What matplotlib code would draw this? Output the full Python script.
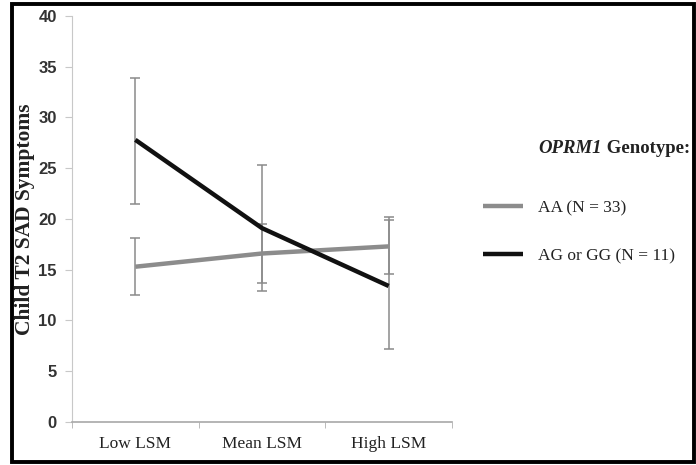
import numpy as np
import matplotlib
matplotlib.use("Agg")
import matplotlib.pyplot as plt
from matplotlib.patches import Rectangle

categories = ["Low LSM", "Mean LSM", "High LSM"]
aa_mean = [15.3, 16.6, 17.3]
aa_low = [12.5, 13.7, 14.6]
aa_high = [18.1, 19.5, 19.9]
ag_mean = [27.8, 19.1, 13.4]
ag_low = [21.5, 12.9, 7.2]
ag_high = [33.9, 25.3, 20.2]
labels = ["AA (N = 33)", "AG or GG (N = 11)"]
y_ticks = [0, 5, 10, 15, 20, 25, 30, 35, 40]

serif = ["Liberation Serif", "DejaVu Serif"]
narrow = ["Liberation Sans Narrow", "Liberation Sans", "DejaVu Sans"]

fig = plt.figure(figsize=(6.96, 4.65), dpi=100)
ax = fig.add_axes([72 / 696, 1 - 422 / 465, 380 / 696, 406 / 465])

x = np.arange(len(categories))
err_color = "#8a8a8a"
for mean, lo, hi in [(aa_mean, aa_low, aa_high), (ag_mean, ag_low, ag_high)]:
	mean = np.array(mean)
	yerr = [mean - np.array(lo), np.array(hi) - mean]
	ax.errorbar(x, mean, yerr=yerr, fmt="none", ecolor=err_color, elinewidth=1.1,
		capsize=3.8, capthick=1.1, zorder=2)

l1, = ax.plot(x, aa_mean, color="#8c8c8c", lw=3.2, solid_capstyle="butt", zorder=3)
l2, = ax.plot(x, ag_mean, color="#111111", lw=3.2, solid_capstyle="butt", zorder=4)

ax.set_xlim(-0.5, 2.5)
ax.set_ylim(0, 40)
ax.set_yticks(y_ticks)
ax.set_yticklabels([str(t) for t in y_ticks], family=narrow, fontweight="bold",
	fontsize=12, color="#333333")
ax.set_xticks(x)
ax.set_xticklabels(categories, family=serif, fontsize=12.5, color="#222222")
ax.tick_params(axis="x", which="major", length=0, pad=10)
ax.set_xticks([-0.5, 0.5, 1.5, 2.5], minor=True)
ax.tick_params(axis="x", which="minor", length=4, direction="out", color="#b0b0b0")
ax.tick_params(axis="y", length=5, direction="out", color="#c8c8c8", pad=6)

for side in ["top", "right"]:
	ax.spines[side].set_visible(False)
ax.spines["left"].set_color("#c8c8c8")
ax.spines["bottom"].set_color("#a8a8a8")
ax.spines["bottom"].set_linewidth(1.2)

ax.set_ylabel("Child T2 SAD Symptoms", family=serif, fontweight="bold",
	fontsize=15.5, color="#222222", labelpad=2)

# legend title with italic gene name
t1 = fig.text(538 / 696, 1 - 148 / 465, "OPRM1", family=serif, style="italic",
	fontweight="bold", fontsize=13.5, va="center", color="#222222")
ax.annotate(" Genotype:", xy=(1, 0.5), xycoords=t1, va="center", ha="left",
	family=serif, fontweight="bold", fontsize=13.5, color="#222222",
	annotation_clip=False)

leg = ax.legend(handles=[l1, l2], labels=labels, loc="upper left",
	bbox_to_anchor=(483 / 696, 1 - 200 / 465), bbox_transform=fig.transFigure,
	frameon=False, borderpad=0, borderaxespad=0, handlelength=2.3,
	handletextpad=0.85, labelspacing=1.85, prop={"family": serif, "size": 12.5})
for t in leg.get_texts():
	t.set_color("#222222")

fig.patches.append(Rectangle((12 / 696, 3 / 465), 682 / 696, 458 / 465,
	transform=fig.transFigure, fill=False, edgecolor="black", lw=2.8, zorder=10))

fig.savefig("out.png", dpi=100)
